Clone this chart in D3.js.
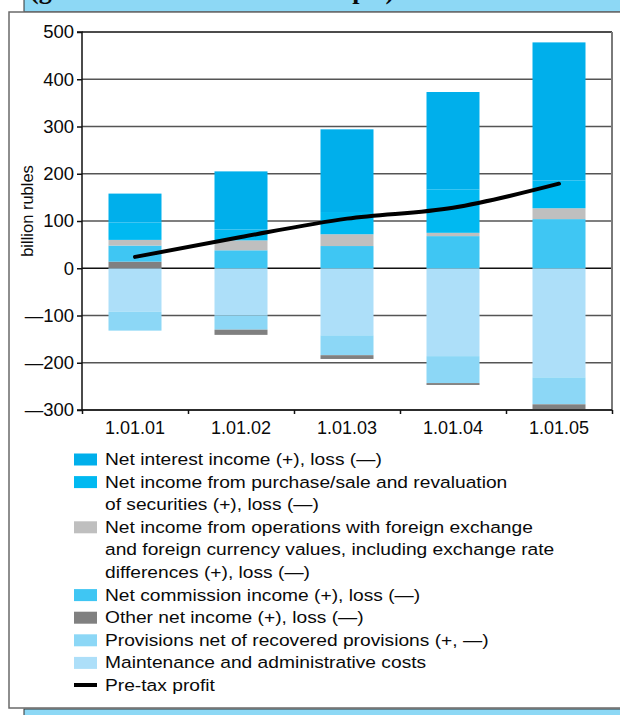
<!DOCTYPE html>
<html>
<head>
<meta charset="utf-8">
<script src="https://cdn.jsdelivr.net/npm/d3@7"></script>
<style>
  html, body { margin: 0; padding: 0; background: #fff; }
  svg { display: block; }
  text { font-family: "Liberation Sans", Arial, Helvetica, sans-serif; fill: #0a0a0a; }
</style>
</head>
<body>
<svg id="chart" width="620" height="715"></svg>
<script>
// Reporting dates
const dates = ["1.01.01", "1.01.02", "1.01.03", "1.01.04", "1.01.05"];

// Components of the financial result, billion rubles
const netInterest     = [61, 123, 175, 206, 292];
const netSecurities   = [37, 23, 47, 92, 59];
const netForex        = [12, 21, 25, 7, 23];
const netCommission   = [34, 38, 47, 68, 104];
const otherNet        = [14, -11, -8, -4, -13];
const provisions      = [-40, -30, -42, -57, -57];
const maintenance     = [-92, -100, -142, -186, -231];
const preTaxProfit    = [24, 66, 105, 128, 179];

const yTicks = [-300, -200, -100, 0, 100, 200, 300, 400, 500];

const seriesKeys = ["interest", "securities", "forex", "commission", "other", "provisions", "maintenance"];
const seriesValues = {
  interest: netInterest, securities: netSecurities, forex: netForex,
  commission: netCommission, other: otherNet, provisions: provisions, maintenance: maintenance
};
const colors = {
  interest: "#00afeb", securities: "#00b9f1", forex: "#bfbfbf",
  commission: "#3fc6f3", other: "#808080", provisions: "#8cd7f6", maintenance: "#addff9"
};
const legendItems = [
  { key: "interest",    lines: ["Net interest income (+), loss (\u2014)"] },
  { key: "securities",  lines: ["Net income from purchase/sale and revaluation", "of securities (+), loss (\u2014)"] },
  { key: "forex",       lines: ["Net income from operations with foreign exchange", "and foreign currency values, including exchange rate", "differences (+), loss (\u2014)"] },
  { key: "commission",  lines: ["Net commission income (+), loss (\u2014)"] },
  { key: "other",       lines: ["Other net income (+), loss (\u2014)"] },
  { key: "provisions",  lines: ["Provisions net of recovered provisions (+, \u2014)"] },
  { key: "maintenance", lines: ["Maintenance and administrative costs"] },
  { key: "profit",      lines: ["Pre-tax profit"] }
];

const table = dates.map((d, i) => {
  const row = { date: d };
  seriesKeys.forEach(k => row[k] = seriesValues[k][i]);
  return row;
});

// Stacking: positives grow upward from zero (other, commission, forex, securities, interest);
// negatives grow downward (maintenance, provisions, other).
const stackOrder = ["maintenance", "provisions", "other", "commission", "forex", "securities", "interest"];
const stack = d3.stack()
  .keys(stackOrder)
  .order(d3.stackOrderNone)
  .offset(d3.stackOffsetDiverging);
const stacked = stack(table);

const svg = d3.select("#chart");

// Page frame: header band (title runs off the top edge), white panel, footer band
svg.append("rect").attr("x", 24).attr("y", -2).attr("width", 600).attr("height", 14)
  .attr("fill", "#8dd8f5").attr("stroke", "#333").attr("stroke-width", 1);
svg.append("text")
  .attr("x", 30).attr("y", -1)
  .style("font-family", "'Liberation Serif', 'Times New Roman', serif")
  .style("font-weight", "bold").style("font-size", "26px")
  .text("(growth of income in the sample)");
svg.append("rect").attr("x", 24).attr("y", 709).attr("width", 600).attr("height", 10)
  .attr("fill", "#8dd8f5").attr("stroke", "#333").attr("stroke-width", 1);
svg.append("rect").attr("x", 9).attr("y", 12).attr("width", 640).attr("height", 696)
  .attr("fill", "#fff").attr("stroke", "#6a6a6a").attr("stroke-width", 1.5);

const plotLeft = 82, plotRight = 612, plotTop = 32, plotBottom = 410;

const x = d3.scaleBand().domain(dates).range([plotLeft, plotRight]).paddingInner(0.5).paddingOuter(0.25);
const y = d3.scaleLinear().domain([-300, 500]).range([plotBottom, plotTop]);

// Horizontal grid
svg.append("g").selectAll("line").data(yTicks).join("line")
  .attr("x1", plotLeft).attr("x2", plotRight)
  .attr("y1", d => y(d)).attr("y2", d => y(d))
  .attr("stroke", d => (d === 0 || d === 500) ? "#111" : "#555")
  .attr("stroke-width", 1.6);

// Right frame of the plot
svg.append("line").attr("x1", plotRight).attr("x2", plotRight).attr("y1", plotTop).attr("y2", plotBottom)
  .attr("stroke", "#7a7a7a").attr("stroke-width", 2);

// Bars
svg.append("g").selectAll("g").data(stacked).join("g")
  .attr("fill", s => colors[s.key])
  .selectAll("rect").data(s => s).join("rect")
  .attr("x", d => x(d.data.date))
  .attr("width", x.bandwidth())
  .attr("y", d => y(Math.max(d[0], d[1])))
  .attr("height", d => Math.abs(y(d[0]) - y(d[1])));

// Y axis
const yAxis = d3.axisLeft(y).tickValues(yTicks).tickSize(5).tickPadding(3)
  .tickFormat(d => d < 0 ? "\u2014" + Math.abs(d) : String(d));
const gy = svg.append("g").attr("transform", `translate(${plotLeft},0)`).call(yAxis);
gy.select(".domain").attr("stroke", "#111").attr("stroke-width", 1.5).attr("d", `M-5,${plotTop}H0V${plotBottom}H-5`);
gy.selectAll(".tick line").attr("stroke", "#111").attr("stroke-width", 1.5);
gy.selectAll(".tick text").style("font-size", "18.5px").attr("fill", "#0a0a0a")
  .style("font-family", "'Liberation Sans', Arial, sans-serif");

// X axis: ticks at category boundaries, labels centred under bars
const xb = d3.scaleLinear().domain([0, dates.length]).range([plotLeft, plotRight]);
const gx = svg.append("g").attr("transform", `translate(0,${plotBottom})`)
  .call(d3.axisBottom(xb).ticks(dates.length).tickSize(4).tickFormat(""));
gx.select(".domain").attr("stroke", "#111").attr("stroke-width", 1.5).attr("d", `M${plotLeft},0H${plotRight}`);
gx.selectAll(".tick line").attr("stroke", "#111").attr("stroke-width", 1.5);
svg.append("g").selectAll("text").data(dates).join("text")
  .attr("x", d => x(d) + x.bandwidth() / 2)
  .attr("y", 434)
  .attr("text-anchor", "middle")
  .style("font-size", "18px")
  .text(d => d);

// Axis title
svg.append("text")
  .attr("transform", `translate(33,211) rotate(-90)`)
  .attr("text-anchor", "middle")
  .style("font-size", "16.5px")
  .text("billion rubles");

// Pre-tax profit line
const line = d3.line()
  .x((d, i) => x(dates[i]) + x.bandwidth() / 2)
  .y(d => y(d))
  .curve(d3.curveMonotoneX);
svg.append("path").datum(preTaxProfit)
  .attr("d", line)
  .attr("fill", "none").attr("stroke", "#000").attr("stroke-width", 4)
  .attr("stroke-linecap", "round").attr("stroke-linejoin", "round");

// Legend
const legend = svg.append("g");
let row = 0;
const rowH = 22.6, base0 = 465;
legendItems.forEach(item => {
  const by = base0 + row * rowH;
  if (item.key === "profit") {
    legend.append("line").attr("x1", 74).attr("x2", 97).attr("y1", by - 6).attr("y2", by - 6)
      .attr("stroke", "#000").attr("stroke-width", 4);
  } else {
    legend.append("rect").attr("x", 74).attr("y", by - 11.5).attr("width", 23).attr("height", 12)
      .attr("fill", colors[item.key]);
  }
  item.lines.forEach((t, j) => {
    legend.append("text")
      .attr("transform", `translate(105,${base0 + (row + j) * rowH}) scale(1.13,1)`)
      .style("font-size", "17px")
      .text(t);
  });
  row += item.lines.length;
});
</script>
</body>
</html>
